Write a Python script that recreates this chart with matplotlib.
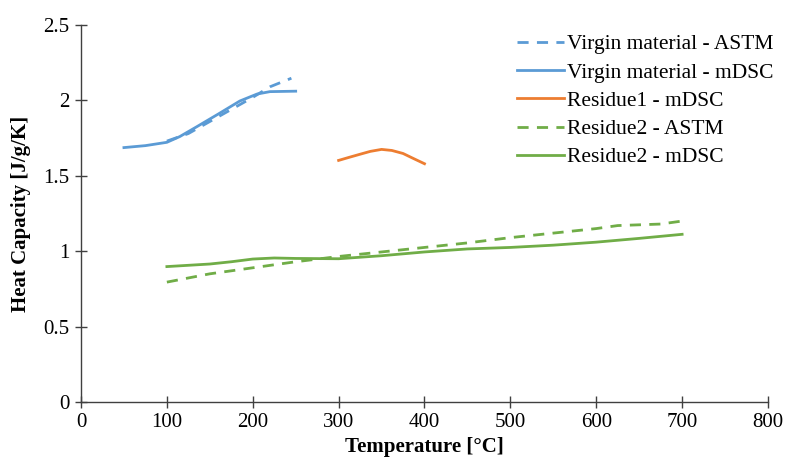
import matplotlib.pyplot as plt

# --- Data ---
virgin_astm_t = [100, 125, 150, 175, 200, 220, 245]
virgin_astm_cp = [1.73, 1.78, 1.86, 1.94, 2.02, 2.09, 2.147]

virgin_mdsc_t = [50, 75, 100, 115, 135, 160, 185, 205, 220, 250]
virgin_mdsc_cp = [1.687, 1.70, 1.722, 1.76, 1.826, 1.91, 1.996, 2.042, 2.058, 2.061]

res1_mdsc_t = [300, 312, 325, 337, 350, 362, 375, 387, 400]
res1_mdsc_cp = [1.602, 1.622, 1.643, 1.662, 1.675, 1.668, 1.648, 1.615, 1.58]

res2_astm_t = [100, 150, 200, 250, 300, 350, 400, 450, 500, 550, 600, 625, 650, 675, 700]
res2_astm_cp = [0.795, 0.85, 0.89, 0.93, 0.965, 0.995, 1.025, 1.055, 1.09, 1.12,
                1.15, 1.17, 1.175, 1.18, 1.20]

res2_mdsc_t = [100, 150, 175, 200, 225, 250, 300, 350, 400, 450, 500, 550, 600, 650, 700]
res2_mdsc_cp = [0.898, 0.915, 0.93, 0.948, 0.955, 0.952, 0.95, 0.97, 0.995, 1.015,
                1.025, 1.04, 1.06, 1.085, 1.112]

x_ticks = [0, 100, 200, 300, 400, 500, 600, 700, 800]
y_ticks = [0, 0.5, 1, 1.5, 2, 2.5]

# --- Style ---
plt.rcParams['font.family'] = ['Liberation Serif', 'DejaVu Serif']
BLUE = "#5B9BD5"
ORANGE = "#ED7D31"
GREEN = "#70AD47"
LW = 2.0
DASH = (4, 3)

fig = plt.figure(figsize=(7.88, 4.66), dpi=100)
ax = fig.add_axes([0.1028, 0.1373, 0.8718, 0.8091])

ax.plot(virgin_astm_t, virgin_astm_cp, color=BLUE, lw=LW, dashes=DASH,
        label="Virgin material - ASTM")
ax.plot(virgin_mdsc_t, virgin_mdsc_cp, color=BLUE, lw=LW,
        label="Virgin material - mDSC")
ax.plot(res1_mdsc_t, res1_mdsc_cp, color=ORANGE, lw=LW,
        label="Residue1 - mDSC")
ax.plot(res2_astm_t, res2_astm_cp, color=GREEN, lw=LW, dashes=DASH,
        label="Residue2 - ASTM")
ax.plot(res2_mdsc_t, res2_mdsc_cp, color=GREEN, lw=LW,
        label="Residue2 - mDSC")

ax.set_xlim(0, 800)
ax.set_ylim(0, 2.5)
ax.set_xticks(x_ticks)
ax.set_yticks(y_ticks)
ax.set_yticklabels(["0", "0.5", "1", "1.5", "2", "2.5"])

for side in ["top", "right"]:
    ax.spines[side].set_visible(False)
for side in ["left", "bottom"]:
    ax.spines[side].set_color("#404040")
    ax.spines[side].set_linewidth(1.0)

ax.tick_params(direction="inout", length=8.5, width=1.0, color="#404040",
               labelsize=15, pad=4)

ax.set_xlabel("Temperature [°C]", fontsize=15, fontweight="bold", labelpad=3)
ax.set_ylabel("Heat Capacity [J/g/K]", fontsize=15, fontweight="bold", labelpad=9)

ax.legend(loc="upper left", bbox_to_anchor=(0.645, 0.945), bbox_transform=fig.transFigure,
          frameon=False, fontsize=15.5, handlelength=2.2, handletextpad=0.15,
          labelspacing=0.38, borderaxespad=0)

fig.savefig("out.png", dpi=100)
